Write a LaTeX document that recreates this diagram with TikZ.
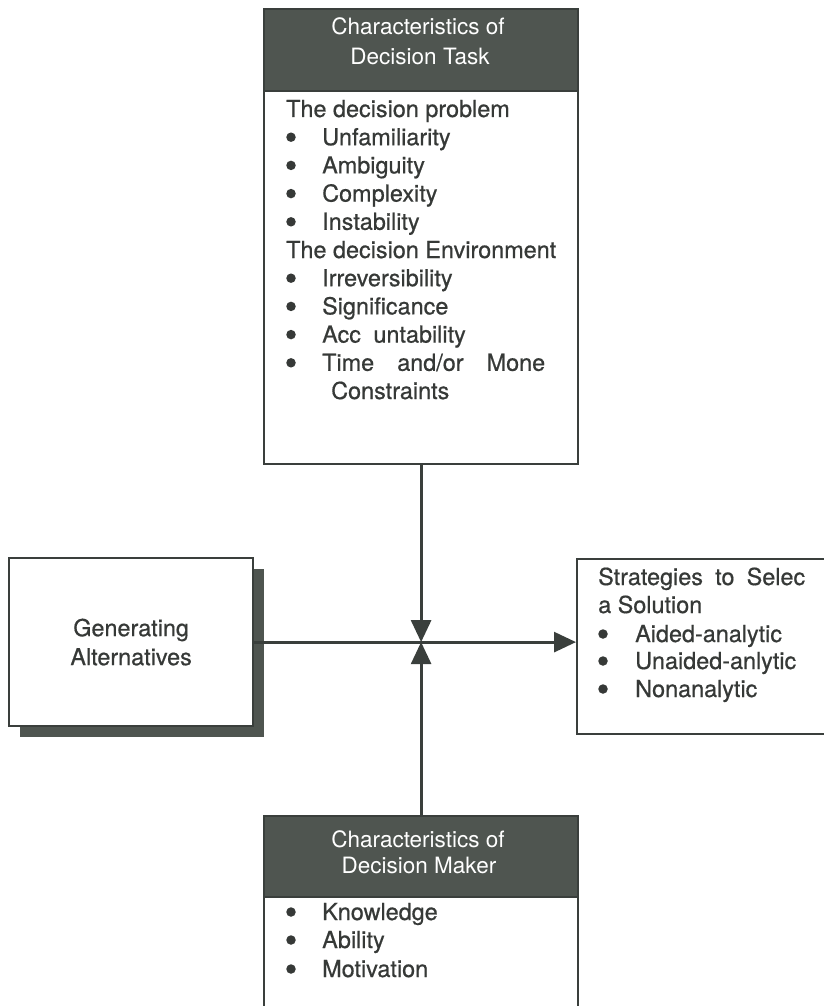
\documentclass[tikz,border=0pt]{standalone}
\usepackage{fontspec}
\setmainfont{TeX Gyre Heros}
\newfontfamily\inkfont[FakeBold=0.6]{TeX Gyre Heros}
\usetikzlibrary{arrows.meta,shadows}
\definecolor{ink}{HTML}{3A3F3C}
\definecolor{headfill}{HTML}{4F5550}
\definecolor{bodyink}{HTML}{363937}

\begin{document}
\begin{tikzpicture}[x=1pt,y=-1pt,
  frame/.style={draw=ink, line width=2.2pt, fill=white, inner sep=0pt, anchor=north west},
  headbox/.style={frame, fill=headfill},
  entry/.style={anchor=base west, inner sep=0pt, text=bodyink,
                font=\inkfont\fontsize{23.4}{29}\selectfont},
  headline/.style={anchor=base, inner sep=0pt, text=white,
                   font=\fontsize{22.5}{29}\selectfont},
  dot/.style={circle, fill=bodyink, inner sep=0pt, minimum size=9.5pt},
  link/.style={draw=ink, line width=2.8pt},
  tip/.style={-{Triangle[width=20pt,length=22pt]}}
]
\clip (0,0) rectangle (824,1006);
\fill[white] (0,0) rectangle (824,1006);

% ---- Characteristics of Decision Task ----
\node[headbox, minimum width=314pt, minimum height=82pt] (taskhead) at (263,8) {};
\node[frame, minimum width=314pt, minimum height=373pt] (taskbody) at (263,90) {};
\node[headline] (th1) at (418,35) {Characteristics of};
\node[headline] (th2) at (420,65) {Decision Task};

\node[entry] (tp) at (286,117) {The decision problem};
\foreach \k/\t [count=\i] in {1/Unfamiliarity, 2/Ambiguity, 3/Complexity, 4/Instability}{
  \node[dot] (pb\i) at (291,{117+28.2*\k-8}) {};
  \node[entry] (pi\i) at (322,{117+28.2*\k}) {\t};
}
\node[entry] (te) at (286,{117+28.2*5}) {The decision Environment};
\foreach \k/\t [count=\i] in {6/Irreversibility, 7/Significance, 8/Acc\hspace{6pt} untability}{
  \node[dot] (eb\i) at (291,{117+28.2*\k-8}) {};
  \node[entry] (ei\i) at (322,{117+28.2*\k}) {\t};
}
\node[dot] (eb4) at (291,{117+28.2*9-8}) {};
\node[entry] (ei4) at (322,{117+28.2*9}) {\makebox[223pt][s]{Time and/or Mone}};
\node[entry] (ei5) at (331,{117+28.2*10}) {Constraints};

% ---- Generating Alternatives ----
\node[frame, minimum width=244pt, minimum height=168pt, align=center,
      text=bodyink, font=\inkfont\fontsize{23.4}{29}\selectfont,
      drop shadow={shadow xshift=11pt, shadow yshift=-11pt, fill=headfill, opacity=1}]
  (gen) at (8,557) {Generating\\Alternatives};

% ---- Strategies to Select a Solution ----
\node[frame, minimum width=270pt, minimum height=175pt] (strat) at (576,558) {};
\node[entry] (s1) at (598,585) {\makebox[207pt][s]{Strategies to Selec}};
\node[entry] (s2) at (598,613) {a Solution};
\foreach \y/\t [count=\i] in {642/Aided-analytic, 669/Unaided-anlytic, 697/Nonanalytic}{
  \node[dot] (sb\i) at (603,{\y-8}) {};
  \node[entry] (si\i) at (635,\y) {\t};
}

% ---- Characteristics of Decision Maker ----
\node[headbox, minimum width=314pt, minimum height=81pt] (makerhead) at (263,815) {};
\node[frame, minimum width=314pt, minimum height=130pt] (makerbody) at (263,896) {};
\node[headline] (mh1) at (418,847) {Characteristics of};
\node[headline] (mh2) at (419,873) {Decision Maker};
\foreach \y/\t [count=\i] in {920/Knowledge, 948/Ability, 977/Motivation}{
  \node[dot] (mb\i) at (291,{\y-8}) {};
  \node[entry] (mi\i) at (322,\y) {\t};
}

% ---- connectors ----
\coordinate (hub) at (taskbody.south |- gen.east);
\draw[link,tip] (taskbody.south) -- (hub);
\draw[link,tip] (makerhead.north) -- (hub);
\draw[link,tip] (gen.east) -- (strat.west |- gen.east);
\end{tikzpicture}
\end{document}
